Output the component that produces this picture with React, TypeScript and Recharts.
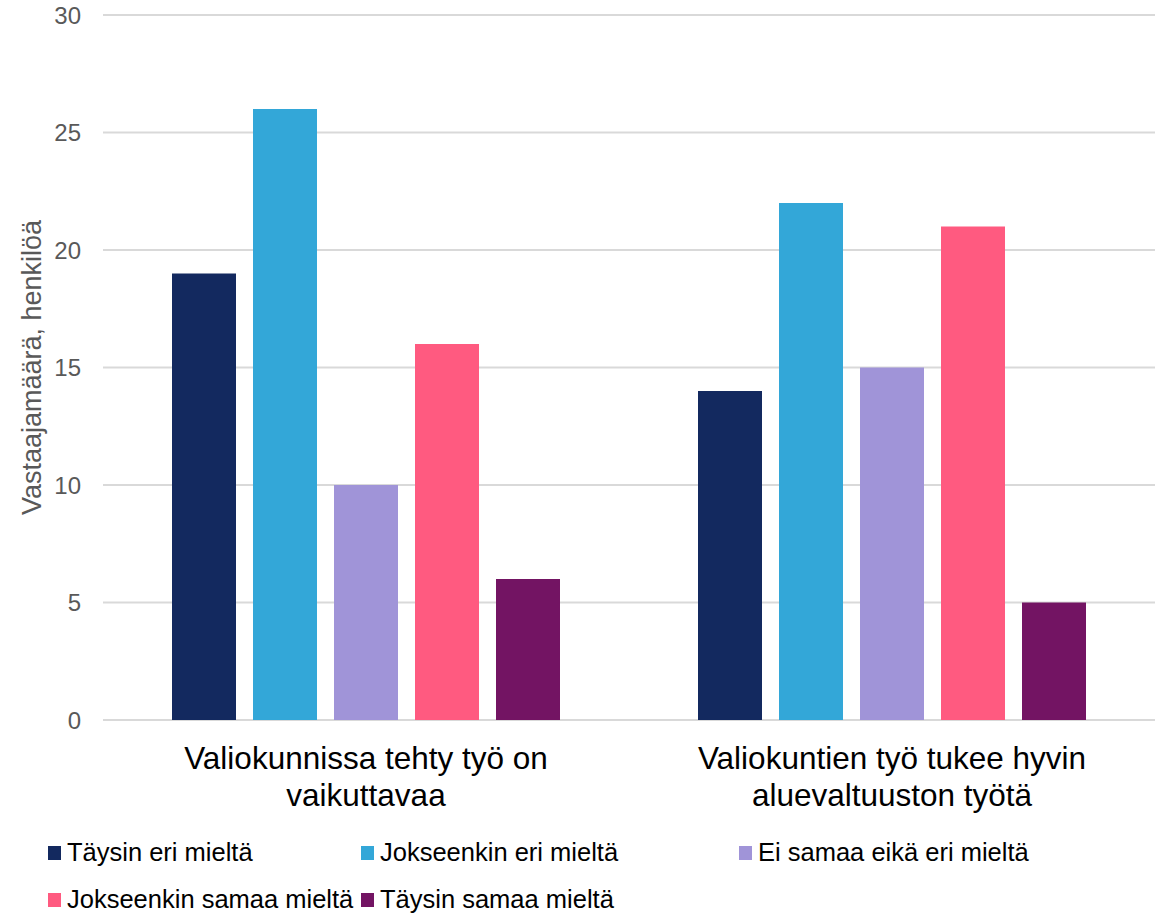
import React from 'react';
import { BarChart, Bar, XAxis, YAxis, CartesianGrid, Label } from 'recharts';

const categories = [
  'Valiokunnissa tehty työ on vaikuttavaa',
  'Valiokuntien työ tukee hyvin aluevaltuuston työtä',
];
const taysinEri = [19, 14];
const jokseenkinEri = [26, 22];
const eiSamaaEikaEri = [10, 15];
const jokseenkinSamaa = [16, 21];
const taysinSamaa = [6, 5];
const yTicks = [0, 5, 10, 15, 20, 25, 30];

const seriesNames = [
  'Täysin eri mieltä',
  'Jokseenkin eri mieltä',
  'Ei samaa eikä eri mieltä',
  'Jokseenkin samaa mieltä',
  'Täysin samaa mieltä',
];
const seriesValues = [taysinEri, jokseenkinEri, eiSamaaEikaEri, jokseenkinSamaa, taysinSamaa];
const seriesColors = ['#13295F', '#33A7D8', '#A094D8', '#FF5A80', '#731463'];
const keys = ['s0', 's1', 's2', 's3', 's4'];

const data = categories.map((c, i) => {
  const row: Record<string, any> = { category: c };
  keys.forEach((k, j) => {
    row[k] = seriesValues[j][i];
  });
  return row;
});

const FONT = '"Liberation Sans", Arial, sans-serif';
const X_FONT_SIZE = 31.5;

let measureCtx: CanvasRenderingContext2D | null = null;
function wrapWords(text: string, maxWidth: number): string[] {
  if (!measureCtx) {
    const c = document.createElement('canvas');
    measureCtx = c.getContext('2d');
  }
  const ctx = measureCtx!;
  ctx.font = `${X_FONT_SIZE}px "Liberation Sans", Arial, sans-serif`;
  const words = text.split(' ');
  const lines: string[] = [];
  let cur = '';
  words.forEach((w) => {
    const test = cur ? cur + ' ' + w : w;
    if (cur && ctx.measureText(test).width > maxWidth) {
      lines.push(cur);
      cur = w;
    } else {
      cur = test;
    }
  });
  if (cur) lines.push(cur);
  return lines;
}

const XTick = (props: any) => {
  const { x, payload } = props;
  const lines = wrapWords(String(payload.value), 430);
  return (
    <text x={x} y={769} textAnchor="middle" fontSize={X_FONT_SIZE} fontFamily={FONT} fill="#000000">
      {lines.map((l, i) => (
        <tspan key={i} x={x} dy={i === 0 ? 0 : 37}>
          {l}
        </tspan>
      ))}
    </text>
  );
};

export default function App() {
  return (
    <div style={{ position: 'absolute', left: 0, top: 0, width: 1166, height: 915, background: '#fff', fontFamily: FONT }}>
      <BarChart
        width={1166}
        height={830}
        data={data}
        margin={{ top: 15, right: 11, left: 0, bottom: 0 }}
        barCategoryGap={69}
        barGap={17}
      >
        <CartesianGrid vertical={false} stroke="#D9D9D9" strokeWidth={2} />
        <XAxis
          dataKey="category"
          axisLine={false}
          tickLine={false}
          height={110}
          interval={0}
          tick={<XTick />}
        />
        <YAxis
          domain={[0, 30]}
          ticks={yTicks}
          width={103}
          axisLine={false}
          tickLine={false}
          tickSize={6}
          tickMargin={16}
          tick={{ fontSize: 24, fill: '#595959', fontFamily: FONT }}
        >
          <Label
            content={(p: any) => {
              const vb = p.viewBox;
              const cx = 32;
              const cy = vb.y + vb.height / 2;
              return (
                <text
                  x={cx}
                  y={cy}
                  transform={`rotate(-90, ${cx}, ${cy})`}
                  textAnchor="middle"
                  dominantBaseline="central"
                  fontSize={27}
                  fill="#595959"
                  fontFamily={FONT}
                >
                  Vastaajamäärä, henkilöä
                </text>
              );
            }}
          />
        </YAxis>
        {keys.map((k, j) => (
          <Bar key={k} dataKey={k} name={seriesNames[j]} fill={seriesColors[j]} isAnimationActive={false} />
        ))}
      </BarChart>
      <div
        style={{
          position: 'absolute',
          left: 48,
          top: 829,
          display: 'grid',
          gridTemplateColumns: '313px 378px auto',
          gridAutoRows: '47px',
          fontSize: 25.5,
          lineHeight: '47px',
          color: '#000',
        }}
      >
        {seriesNames.map((n, j) => (
          <div key={n} style={{ display: 'flex', alignItems: 'center', whiteSpace: 'nowrap' }}>
            <span style={{ display: 'inline-block', width: 13, height: 14, background: seriesColors[j], marginRight: 6 }} />
            <span>{n}</span>
          </div>
        ))}
      </div>
    </div>
  );
}
